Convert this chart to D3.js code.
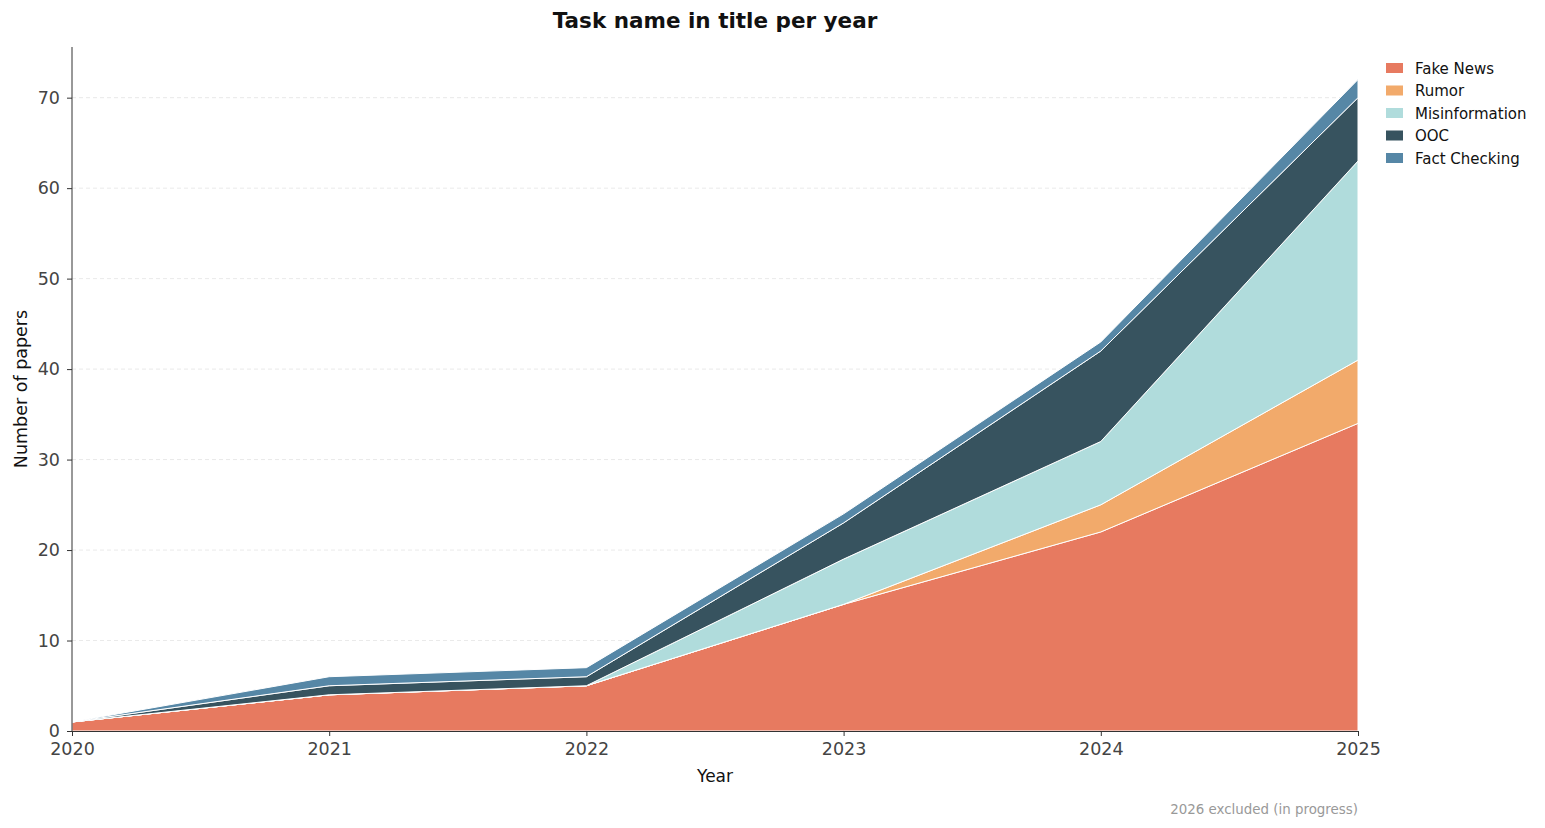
<!DOCTYPE html>
<html>
<head>
<meta charset="utf-8">
<script src="https://cdn.jsdelivr.net/npm/d3@7"></script>
<style>
  body { margin: 0; background: #fff; }
  svg { font-family: "DejaVu Sans", sans-serif; }
</style>
</head>
<body>
<div id="chart"></div>
<script>
// data
var years = [2020, 2021, 2022, 2023, 2024, 2025];
var fakeNews = [1, 4, 5, 14, 22, 34];
var rumor = [0, 0, 0, 0, 3, 7];
var misinformation = [0, 0, 0, 5, 7, 22];
var ooc = [0, 1, 1, 4, 10, 7];
var factChecking = [0, 1, 1, 1, 1, 2];
var seriesNames = ['Fake News', 'Rumor', 'Misinformation', 'OOC', 'Fact Checking'];
var seriesColors = ['#e77a60', '#f2aa6b', '#b0dcdc', '#37535f', '#5687a6'];
var yTicks = [0, 10, 20, 30, 40, 50, 60, 70];

var width = 1545, height = 828;
var margin = {left: 72, right: 187, top: 47, bottom: 97};

var svg = d3.select('#chart').append('svg')
  .attr('width', width)
  .attr('height', height);

var rows = years.map(function(y, i) {
  return {year: y, 'Fake News': fakeNews[i], 'Rumor': rumor[i], 'Misinformation': misinformation[i],
    'OOC': ooc[i], 'Fact Checking': factChecking[i]};
});
var stack = d3.stack().keys(seriesNames);
var layers = stack(rows);
var maxTotal = d3.max(layers[layers.length - 1], function(d) { return d[1]; });

var x = d3.scaleLinear().domain([2020, 2025]).range([margin.left, width - margin.right]);
var y = d3.scaleLinear().domain([0, maxTotal * 1.05]).range([height - margin.bottom, margin.top]);

// grid
svg.append('g').selectAll('line')
  .data(yTicks.filter(function(t) { return t > 0; }))
  .enter().append('line')
  .attr('x1', margin.left).attr('x2', width - margin.right)
  .attr('y1', function(d) { return y(d); }).attr('y2', function(d) { return y(d); })
  .attr('stroke', '#e3e3e3').attr('stroke-dasharray', '4,3').attr('stroke-width', 0.8);

var area = d3.area()
  .x(function(d) { return x(d.data.year); })
  .y0(function(d) { return y(d[0]); })
  .y1(function(d) { return y(d[1]); });

svg.append('g').selectAll('path')
  .data(layers)
  .enter().append('path')
  .attr('d', area)
  .attr('fill', function(d, i) { return seriesColors[i]; })
  .attr('stroke', '#fff')
  .attr('stroke-width', 1);

// axes
var xAxis = svg.append('g')
  .attr('transform', 'translate(0,' + (height - margin.bottom) + ')')
  .call(d3.axisBottom(x).tickValues(years).tickFormat(d3.format('d')).tickSizeOuter(0).tickSize(5).tickPadding(7));
var yAxis = svg.append('g')
  .attr('transform', 'translate(' + margin.left + ',0)')
  .call(d3.axisLeft(y).tickValues(yTicks).tickSizeOuter(0).tickSize(5).tickPadding(7));

[xAxis, yAxis].forEach(function(a) {
  a.select('.domain').attr('stroke', '#333').attr('stroke-width', 1);
  a.selectAll('.tick line').attr('stroke', '#333');
  a.selectAll('.tick text').attr('fill', '#444').attr('font-size', 17.5)
    .attr('font-family', '"DejaVu Sans", sans-serif');
});
yAxis.select('.domain').attr('d', 'M0,' + (height - margin.bottom) + 'V' + margin.top);

// title and labels
svg.append('text')
  .attr('x', (margin.left + width - margin.right) / 2).attr('y', 28)
  .attr('text-anchor', 'middle').attr('font-size', 21.5).attr('font-weight', 'bold')
  .attr('fill', '#111')
  .text('Task name in title per year');

svg.append('text')
  .attr('x', (margin.left + width - margin.right) / 2).attr('y', 782)
  .attr('text-anchor', 'middle').attr('font-size', 17).attr('fill', '#111')
  .text('Year');

svg.append('text')
  .attr('transform', 'translate(27,' + ((margin.top + height - margin.bottom) / 2) + ') rotate(-90)')
  .attr('text-anchor', 'middle').attr('font-size', 17.5).attr('fill', '#111')
  .text('Number of papers');

svg.append('text')
  .attr('x', width - margin.right).attr('y', 814)
  .attr('text-anchor', 'end').attr('font-size', 13.4).attr('fill', '#999')
  .text('2026 excluded (in progress)');

// legend
var legend = svg.append('g').attr('class', 'legend_contents');
legend.selectAll('rect')
  .data(seriesNames)
  .enter().append('rect')
  .attr('x', 1386)
  .attr('y', function(d, i) { return 63 + 22.5 * i; })
  .attr('width', 17).attr('height', 10)
  .attr('fill', function(d, i) { return seriesColors[i]; });
legend.selectAll('text')
  .data(seriesNames)
  .enter().append('text')
  .attr('x', 1415)
  .attr('y', function(d, i) { return 73.5 + 22.5 * i; })
  .attr('font-size', 15).attr('fill', '#111')
  .text(function(d) { return d; });
</script>
</body>
</html>
